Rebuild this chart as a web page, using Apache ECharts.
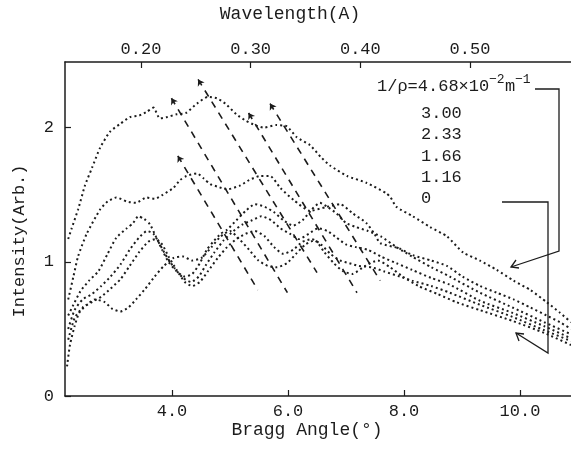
<!DOCTYPE html>
<html>
<head>
<meta charset="utf-8">
<script src="https://cdn.jsdelivr.net/npm/echarts@6/dist/echarts.min.js"></script>
<style>
html, body { margin: 0; padding: 0; background: #fff; }
#chart { width: 571px; height: 460px; }
</style>
</head>
<body>
<div id="chart"></div>
<script>
// Bragg angle (deg) / intensity pairs, one pair of arrays per curvature 1/rho
var ang468 = [2.21,2.27,2.38,2.50,2.62,2.76,2.93,3.11,3.28,3.43,3.57,3.68,3.79,3.92,4.08,4.24,4.43,4.62,4.77,4.92,5.11,5.28,5.43,5.58,5.80,5.98,6.15,6.38,6.57,6.72,7.02,7.35,7.70,7.77,7.87,8.15,8.45,8.74,9.02,9.31,9.60,9.89,10.18,10.46,10.69,10.88];
var int468 = [1.17,1.25,1.39,1.57,1.70,1.85,1.97,2.03,2.08,2.09,2.12,2.15,2.07,2.08,2.10,2.11,2.18,2.23,2.22,2.18,2.10,2.05,2.02,2.00,2.02,2.01,1.93,1.87,1.78,1.72,1.64,1.59,1.51,1.48,1.41,1.34,1.26,1.19,1.07,1.01,0.94,0.86,0.79,0.70,0.62,0.55];

var ang300 = [2.21,2.30,2.38,2.53,2.76,2.89,3.04,3.22,3.38,3.56,3.70,3.84,4.02,4.14,4.25,4.43,4.55,4.66,4.79,4.95,5.18,5.33,5.52,5.69,5.87,6.10,6.38,6.67,6.90,7.12,7.35,7.49,7.59,7.92,8.15,8.47,8.74,9.01,9.31,9.60,9.89,10.18,10.46,10.69,10.88];
var int300 = [0.72,0.89,1.04,1.21,1.39,1.45,1.48,1.45,1.44,1.48,1.47,1.50,1.55,1.61,1.64,1.66,1.62,1.58,1.56,1.54,1.57,1.61,1.64,1.64,1.55,1.46,1.38,1.41,1.43,1.36,1.29,1.21,1.14,1.10,1.05,1.01,0.97,0.89,0.82,0.77,0.72,0.66,0.60,0.55,0.50];

var ang233 = [2.21,2.30,2.42,2.57,2.73,2.89,3.04,3.22,3.33,3.42,3.52,3.62,3.72,3.83,3.94,4.08,4.22,4.35,4.48,4.60,4.71,4.84,4.95,5.11,5.27,5.43,5.60,5.76,5.92,6.09,6.25,6.41,6.55,6.68,6.84,7.00,7.17,7.38,7.60,7.87,8.14,8.47,8.79,9.31,9.87,10.42,10.88];
var int233 = [0.60,0.68,0.78,0.86,0.93,1.06,1.18,1.25,1.29,1.34,1.32,1.28,1.19,1.09,1.00,0.93,0.89,0.91,0.99,1.09,1.15,1.21,1.24,1.31,1.38,1.43,1.41,1.37,1.31,1.27,1.31,1.39,1.44,1.41,1.36,1.29,1.26,1.23,1.19,1.11,1.04,0.96,0.89,0.77,0.66,0.55,0.46];

var ang166 = [2.21,2.32,2.46,2.62,2.78,2.94,3.11,3.27,3.43,3.57,3.68,3.79,3.92,4.05,4.19,4.33,4.46,4.59,4.73,4.89,5.06,5.22,5.38,5.54,5.71,5.87,6.03,6.19,6.36,6.52,6.68,6.84,7.00,7.17,7.38,7.60,7.87,8.14,8.47,8.79,9.31,9.87,10.42,10.88];
var int166 = [0.50,0.64,0.72,0.76,0.82,0.89,0.98,1.09,1.18,1.23,1.21,1.13,1.03,0.95,0.88,0.85,0.89,0.98,1.07,1.16,1.23,1.28,1.31,1.34,1.31,1.25,1.21,1.17,1.21,1.25,1.23,1.18,1.13,1.11,1.09,1.04,0.99,0.94,0.88,0.83,0.71,0.62,0.52,0.43];

var ang116 = [2.21,2.32,2.46,2.62,2.78,2.94,3.11,3.27,3.43,3.59,3.72,3.83,3.94,4.08,4.22,4.35,4.48,4.62,4.79,4.95,5.11,5.27,5.43,5.60,5.76,5.92,6.09,6.25,6.41,6.57,6.73,6.90,7.06,7.22,7.44,7.65,7.93,8.14,8.47,8.79,9.31,9.87,10.42,10.88];
var int116 = [0.42,0.58,0.66,0.70,0.74,0.80,0.87,0.97,1.07,1.15,1.17,1.13,1.04,0.94,0.85,0.82,0.85,0.93,1.03,1.11,1.17,1.21,1.23,1.19,1.11,1.06,1.09,1.15,1.17,1.13,1.06,1.01,0.99,0.97,0.96,0.93,0.89,0.86,0.82,0.77,0.68,0.59,0.49,0.41];

var ang0 = [2.19,2.24,2.32,2.40,2.53,2.67,2.84,2.97,3.11,3.25,3.38,3.54,3.70,3.86,4.03,4.19,4.35,4.51,4.68,4.84,5.00,5.16,5.33,5.49,5.65,5.81,5.98,6.14,6.30,6.46,6.63,6.79,6.95,7.11,7.33,7.55,7.76,7.98,8.25,8.58,8.90,9.31,9.87,10.42,10.88];
var int0 = [0.22,0.38,0.52,0.62,0.68,0.72,0.70,0.65,0.63,0.66,0.72,0.80,0.89,0.97,1.03,1.04,1.01,1.03,1.11,1.19,1.23,1.17,1.09,1.01,0.97,0.96,0.99,1.06,1.13,1.16,1.07,0.99,0.93,0.91,0.97,1.01,0.96,0.89,0.82,0.76,0.70,0.64,0.56,0.47,0.38];

// peak-shift guide lines: arrow end (top) -> lower end
var shiftTopX = [4.10, 3.99, 4.45, 5.32, 5.69];
var shiftTopY = [1.79, 2.22, 2.36, 2.11, 2.18];
var shiftEndX = [5.48, 5.99, 6.50, 7.19, 7.59];
var shiftEndY = [0.79, 0.77, 0.92, 0.77, 0.86];

var angleTicks = [4, 6, 8, 10];
var waveTicks = [0.2, 0.3, 0.4, 0.5];
var intTicks = [0, 1, 2];
var rhoLabels = ['4.68', '3.00', '2.33', '1.66', '1.16', '0'];

var FONT = '"Liberation Mono", "DejaVu Sans Mono", monospace';
var INK = '#1c1c1c';

function zip(xs, ys) {
    var out = [];
    for (var i = 0; i < xs.length; i++) out.push([xs[i], ys[i]]);
    return out;
}

var curves = [
    [ang468, int468], [ang300, int300], [ang233, int233],
    [ang166, int166], [ang116, int116], [ang0, int0]
];

var series = curves.map(function (c, i) {
    return {
        type: 'line',
        name: rhoLabels[i],
        xAxisIndex: 0,
        data: zip(c[0], c[1]),
        showSymbol: false,
        smooth: 0.2,
        lineStyle: { color: INK, width: 2, type: [2, 3], cap: 'butt' },
        silent: true,
        animation: false
    };
});

var shiftData = [];
for (var k = 0; k < shiftTopX.length; k++) {
    shiftData.push({ coords: [[shiftTopX[k], shiftTopY[k]], [shiftEndX[k], shiftEndY[k]]] });
}
series.push({
    type: 'lines',
    coordinateSystem: 'cartesian2d',
    xAxisIndex: 0,
    data: shiftData,
    symbol: ['arrow', 'none'],
    symbolSize: [6, 8],
    lineStyle: { color: INK, width: 1.6, type: [7, 6], opacity: 1 },
    silent: true,
    animation: false
});

var chart = echarts.init(document.getElementById('chart'), null, { renderer: 'canvas' });

var axisLine = { show: true, lineStyle: { color: INK, width: 1.5 } };
var tick = { inside: true, length: 6, lineStyle: { color: INK, width: 1.2 } };
var labelFont = { color: INK, fontFamily: FONT, fontSize: 17 };

function txt(x, y, s, size, extra) {
    var st = { text: s, font: size + 'px ' + FONT, fill: INK, verticalAlign: 'middle' };
    for (var key in (extra || {})) st[key] = extra[key];
    return { type: 'text', x: x, y: y, style: st };
}

var option = {
    backgroundColor: '#fff',
    animation: false,
    grid: { left: 65, top: 62, right: 0, bottom: 64 },
    xAxis: [{
        type: 'value', position: 'bottom', min: 2.155, max: 10.88,
        axisLine: axisLine,
        axisTick: Object.assign({ customValues: angleTicks }, tick),
        axisLabel: Object.assign({ customValues: angleTicks, margin: 7,
            formatter: function (v) { return v.toFixed(1); } }, labelFont),
        splitLine: { show: false }
    }, {
        type: 'value', position: 'top', min: 0.1307, max: 0.5921,
        axisLine: axisLine,
        axisTick: Object.assign({ customValues: waveTicks }, tick),
        axisLabel: Object.assign({ customValues: waveTicks, margin: 4,
            formatter: function (v) { return v.toFixed(2); } }, labelFont),
        splitLine: { show: false }
    }],
    yAxis: {
        type: 'value', min: 0, max: 2.49,
        axisLine: axisLine,
        axisTick: Object.assign({ customValues: intTicks }, tick),
        axisLabel: Object.assign({ customValues: intTicks, margin: 11 }, labelFont),
        splitLine: { show: false }
    },
    series: series,
    graphic: [
        txt(290, 14, 'Wavelength(A)', 18, { align: 'center' }),
        txt(307, 430, 'Bragg Angle(\u00b0)', 18, { align: 'center' }),
        { type: 'text', x: 19, y: 241, rotation: Math.PI / 2,
          style: { text: 'Intensity(Arb.)', font: '17px ' + FONT, fill: INK, align: 'center', verticalAlign: 'middle' } },
        txt(377, 86, '1/\u03c1=' + rhoLabels[0] + '\u00d710', 17),
        txt(489, 80, '\u22122', 13),
        txt(505, 86, 'm', 17),
        txt(515, 80, '\u22121', 13),
        txt(421, 113, rhoLabels[1], 17),
        txt(421, 134, rhoLabels[2], 17),
        txt(421, 156, rhoLabels[3], 17),
        txt(421, 177, rhoLabels[4], 17),
        txt(421, 198, rhoLabels[5], 17),
        // bracket from the 4.68 label to the top curve
        { type: 'polyline', shape: { points: [[535, 89], [559, 89], [559, 251], [511, 267]] }, style: { stroke: INK, lineWidth: 1.3, fill: null } },
        { type: 'polyline', shape: { points: [[516, 260], [511, 267], [519, 268]] }, style: { stroke: INK, lineWidth: 1.3, fill: null } },
        // bracket from the 0 label to the lowest curve
        { type: 'polyline', shape: { points: [[502, 202], [548, 202], [548, 353], [516, 333]] }, style: { stroke: INK, lineWidth: 1.3, fill: null } },
        { type: 'polyline', shape: { points: [[524, 334], [516, 333], [519, 341]] }, style: { stroke: INK, lineWidth: 1.3, fill: null } }
    ]
};

chart.setOption(option);
</script>
</body>
</html>
